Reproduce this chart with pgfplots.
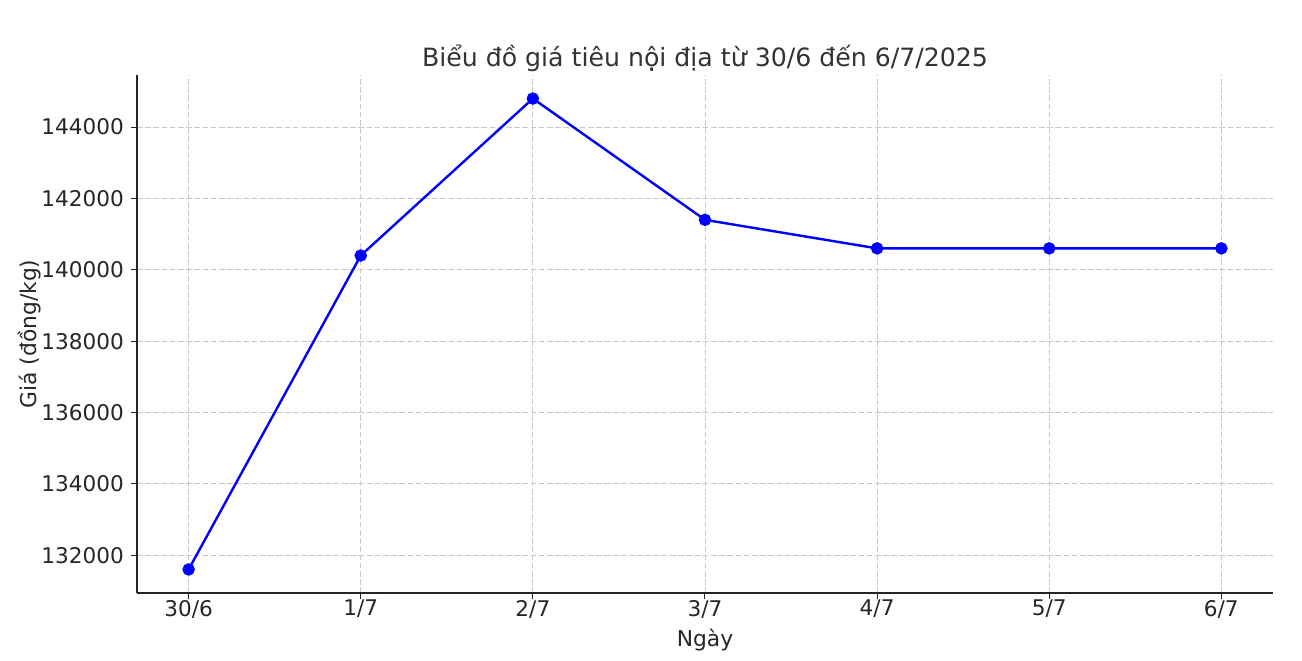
\documentclass[border=0pt]{standalone}
\usepackage{pgfplots}
\pgfplotsset{compat=1.18}
\usepackage{fontspec}
\setmainfont{DejaVu Sans}
\definecolor{txt}{HTML}{262626}
\definecolor{ttl}{HTML}{333333}
\definecolor{gridc}{HTML}{C8C8C8}
\begin{document}
\begin{tikzpicture}
\useasboundingbox (0,0) rectangle (651pt,330pt);
\begin{axis}[
  at={(68.5pt,33.5pt)}, anchor=south west,
  scale only axis, width=568pt, height=259pt,
  xmin=-0.3, xmax=6.3, ymin=130940, ymax=145460,
  axis x line*=bottom, axis y line*=left,
  axis line style={line width=0.6pt, color=txt, -},
  xtick={0,1,2,3,4,5,6},
  xticklabels={30/6,1/7,2/7,3/7,4/7,5/7,6/7},
  ytick={132000,134000,136000,138000,140000,142000,144000},
  scaled y ticks=false,
  yticklabel style={/pgf/number format/.cd, fixed, 1000 sep={}, assume math mode=true},
  /pgf/number format/assume math mode=true,
  tick style={color=txt, line width=0.5pt},
  tick align=outside, major tick length=3pt,
  ticklabel style={font=\fontsize{10.8}{13}\selectfont, color=txt},
  xticklabel style={yshift=3pt},
  grid=major,
  major grid style={dash pattern=on 2.8pt off 1.3pt, color=gridc, line width=0.45pt},
  xlabel={Ngày}, ylabel={Giá (đồng/kg)},
  label style={font=\fontsize{10.9}{13}\selectfont, color=txt},
  xlabel style={yshift=1.5pt},
  ylabel style={yshift=-6.5pt},
  title={Biểu đồ giá tiêu nội địa từ 30/6 đến 6/7/2025},
  title style={font=\fontsize{12.6}{15}\selectfont, color=ttl, yshift=-8pt},
]
\addplot[color=blue, line width=1.2pt, mark=*, mark size=2.5pt, mark options={fill=blue, draw=blue}]
coordinates {(0,131600) (1,140400) (2,144800) (3,141400) (4,140600) (5,140600) (6,140600)};
\end{axis}
\end{tikzpicture}
\end{document}
